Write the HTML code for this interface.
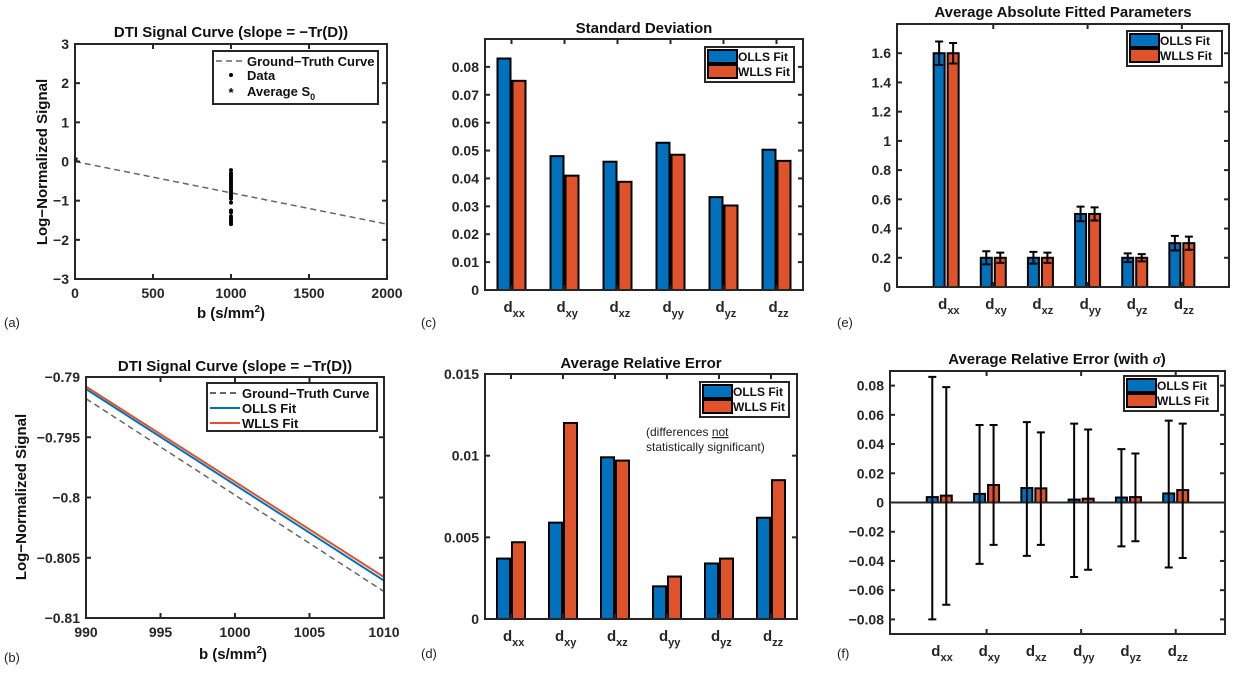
<!DOCTYPE html>
<html><head><meta charset="utf-8"><style>
html,body{margin:0;padding:0;background:#fff;}
svg{display:block;font-family:"Liberation Sans",sans-serif;}
</style></head><body>
<svg id="fig" width="1240" height="673" viewBox="0 0 1240 673" xmlns="http://www.w3.org/2000/svg"></svg>
<script>
// ---- data ----
const categories = ['xx','xy','xz','yy','yz','zz'];
const sdOlls = [0.083,0.048,0.046,0.0528,0.0333,0.0503];
const sdWlls = [0.075,0.041,0.0388,0.0485,0.0303,0.0463];
const relOlls = [0.0037,0.0059,0.0099,0.0020,0.0034,0.0062];
const relWlls = [0.0047,0.0120,0.0097,0.0026,0.0037,0.0085];
const absOlls = [1.6,0.2,0.2,0.5,0.2,0.3];
const absWlls = [1.6,0.2,0.2,0.5,0.2,0.3];
const absErrOlls = [0.08,0.045,0.04,0.05,0.03,0.05];
const absErrWlls = [0.07,0.035,0.035,0.045,0.025,0.045];
const relHiOlls = [0.086,0.053,0.055,0.054,0.0365,0.056];
const relLoOlls = [-0.080,-0.042,-0.0365,-0.051,-0.030,-0.0445];
const relHiWlls = [0.079,0.053,0.048,0.050,0.0335,0.054];
const relLoWlls = [-0.070,-0.029,-0.029,-0.046,-0.0265,-0.038];
const dataB = 1000;
const dataY = [-0.22,-0.3,-0.35,-0.4,-0.45,-0.5,-0.55,-0.6,-0.65,-0.7,-0.75,-0.8,-0.85,-0.9,-0.95,-1.05,-1.25,-1.3,-1.4,-1.45,-1.5,-1.55,-1.6];
const gtB = [0,2000];
const gtY = [0,-1.6];
const zoomB = [990,1010];
const zoomGt = [-0.7918,-0.8078];
const zoomOlls = [-0.7910,-0.8069];
const zoomWlls = [-0.7908,-0.8066];
const ticksA_x = [0,500,1000,1500,2000];
const ticksA_y = [-3,-2,-1,0,1,2,3];
const ticksB_x = [990,995,1000,1005,1010];
const ticksB_y = [-0.81,-0.805,-0.8,-0.795,-0.79];
const ticksB_yLab = ['\u22120.81','\u22120.805','\u22120.8','\u22120.795','\u22120.79'];
const ticksC_y = [0,0.01,0.02,0.03,0.04,0.05,0.06,0.07,0.08];
const ticksD_y = [0,0.005,0.01,0.015];
const ticksE_y = [0,0.2,0.4,0.6,0.8,1,1.2,1.4,1.6];
const ticksF_y = [-0.08,-0.06,-0.04,-0.02,0,0.02,0.04,0.06,0.08];

const BLUE='#0072BD', RED='#E0522A', AX='#262626';
const svg=document.getElementById('fig');
const NS='http://www.w3.org/2000/svg';
function mk(tag,attrs,parent){const e=document.createElementNS(NS,tag);for(const k in attrs)e.setAttribute(k,attrs[k]);(parent||svg).appendChild(e);return e;}
function lin(d0,d1,p0,p1){return v=>p0+(v-d0)*(p1-p0)/(d1-d0);}
function fmt(v){let s=String(+v.toFixed(4));return s.replace('-','\u2212');}

function axesBox(g,box,name){
  const r=mk('rect',{x:box.l,y:box.t,width:box.r-box.l,height:box.b-box.t,fill:'none',stroke:AX,'stroke-width':2},g);
  
  
}
function yTicks(g,box,sy,ticks,labels,name){
  ticks.forEach((v,i)=>{
    const y=sy(v);
    const t1=mk('line',{x1:box.l,x2:box.l+5,y1:y,y2:y,stroke:AX,'stroke-width':2},g);
    
    
    const t2=mk('line',{x1:box.r-5,x2:box.r,y1:y,y2:y,stroke:AX,'stroke-width':2},g);
    
    
    const tx=mk('text',{x:box.l-6,y:y+5,'text-anchor':'end','font-size':14,'font-weight':'bold',fill:AX},g);
    tx.textContent=labels?labels[i]:fmt(v);
    
    
  });
}
function xTicks(g,box,sx,ticks,name,labels){
  ticks.forEach((v,i)=>{
    const x=sx(v);
    const t1=mk('line',{x1:x,x2:x,y1:box.b,y2:box.b-5,stroke:AX,'stroke-width':2},g);
    
    
    const t2=mk('line',{x1:x,x2:x,y1:box.t,y2:box.t+5,stroke:AX,'stroke-width':2},g);
    
    
    if(labels!==false){
      const tx=mk('text',{x:x,y:box.b+19,'text-anchor':'middle','font-size':14,'font-weight':'bold',fill:AX},g);
      tx.textContent=fmt(v);
      
      
    }
  });
}
function title(g,x,y,txt,name){
  const t=mk('text',{x:x,y:y,'text-anchor':'middle','font-size':15,'font-weight':'bold',fill:'#111'},g);
  t.textContent=txt;
  
  
  return t;
}
function panelLabel(x,y,txt){
  const t=mk('text',{x:x,y:y,'font-size':13,fill:'#222'});
  t.textContent=txt;
  
  
}
function catLabels(g,box,sx,name){
  categories.forEach((c,i)=>{
    const t=mk('text',{x:sx(i+1)-8,y:box.b+22,'font-size':15,'font-weight':'bold',fill:AX},g);
    
    
    t.appendChild(document.createTextNode('d'));
    const s=mk('tspan',{dy:5,'font-size':11},t);s.textContent=c;
  });
}
function barLegend(g,x,y,w,name){
  const r=mk('rect',{x:x,y:y,width:w,height:35,fill:'#fff',stroke:AX,'stroke-width':2},g);
  
  
  [['OLLS Fit',BLUE],['WLLS Fit',RED]].forEach((e,i)=>{
    const sw=mk('rect',{x:x+3,y:y+3+i*15,width:29,height:13,fill:e[1],stroke:'#000','stroke-width':2},g);
    
    
    const t=mk('text',{x:x+33,y:y+14+i*15,'font-size':12,'font-weight':'bold',fill:'#111'},g);
    t.textContent=e[0];
    
    
  });
}
function bars(g,sx,sy,vals,off,bw,color,name){
  vals.forEach((v,i)=>{
    const x=sx(i+1)+off, y0=sy(0), y1=sy(v);
    const r=mk('rect',{x:x-bw/2,y:Math.min(y0,y1),width:bw,height:Math.abs(y0-y1),fill:color,stroke:'#000','stroke-width':2},g);
    
    
  });
}
function errs(g,sx,sy,hi,lo,off,cap,name){
  hi.forEach((h,i)=>{
    const x=sx(i+1)+off, a=sy(h), b=sy(lo[i]);
    const l=mk('path',{d:`M${x},${a}V${b}M${x-cap},${a}H${x+cap}M${x-cap},${b}H${x+cap}`,stroke:'#000','stroke-width':2,fill:'none'},g);
    
    
  });
}

// ---- Panel (a) ----
(function(){
  const g=mk('g',{});
  
  
  const box={l:75,r:387,t:44,b:279};
  const sx=lin(0,2000,box.l,box.r), sy=lin(-3,3,box.b,box.t);
  const gt=mk('line',{x1:sx(gtB[0]),y1:sy(gtY[0]),x2:sx(gtB[1]),y2:sy(gtY[1]),stroke:'#666','stroke-width':1.5,'stroke-dasharray':'6,4'},g);
  
  
  dataY.forEach(v=>{
    const c=mk('circle',{cx:sx(dataB),cy:sy(v),r:2,fill:'#000'},g);
    
    
  });
  const s0=mk('text',{x:sx(0)+1,y:sy(0)+4,'text-anchor':'middle','font-size':12,'font-weight':'bold'},g);
  s0.textContent='*';
  
  
  axesBox(g,box,'panel-a');
  yTicks(g,box,sy,ticksA_y,ticksA_y.map(fmt),'panel-a');
  xTicks(g,box,sx,ticksA_x,'panel-a');
  title(g,231,37,'DTI Signal Curve (slope = \u2212Tr(D))','panel-a');
  const xl=mk('text',{x:231,y:318,'text-anchor':'middle','font-size':15,'font-weight':'bold',fill:'#111'},g);
  
  
  xl.appendChild(document.createTextNode('b (s/mm'));
  let sp=mk('tspan',{dy:-6,'font-size':10},xl);sp.textContent='2';
  sp=mk('tspan',{dy:6},xl);sp.textContent=')';
  const yl=mk('text',{x:0,y:0,transform:'translate(47,162) rotate(-90)','text-anchor':'middle','font-size':15,'font-weight':'bold',fill:'#111'},g);
  yl.textContent='Log\u2212Normalized Signal';
  
  
  const lg=mk('rect',{x:213,y:51,width:165,height:53,fill:'#fff',stroke:AX,'stroke-width':2},g);
  
  
  const l1=mk('line',{x1:216,x2:246,y1:61,y2:61,stroke:'#666','stroke-width':1.5,'stroke-dasharray':'6,4'},g);
  
  
  const l2=mk('circle',{cx:231,cy:75,r:2,fill:'#000'},g);
  
  
  const l3=mk('text',{x:231,y:97,'text-anchor':'middle','font-size':13,'font-weight':'bold'},g);
  l3.textContent='*';
  
  
  [['Ground\u2212Truth Curve',66],['Data',80],['Average S',96]].forEach((e,i)=>{
    const t=mk('text',{x:247,y:e[1],'font-size':13,'font-weight':'bold',fill:'#111'},g);
    
    
    t.textContent=e[0];
    if(i===2){const s=mk('tspan',{dy:4,'font-size':9},t);s.textContent='0';}
  });
  panelLabel(4,327,'(a)');
})();

// ---- Panel (b) ----
(function(){
  const g=mk('g',{});
  
  
  const box={l:86,r:384,t:377,b:618};
  const sx=lin(990,1010,box.l,box.r), sy=lin(-0.81,-0.79,box.b,box.t);
  const gt=mk('line',{x1:sx(zoomB[0]),y1:sy(zoomGt[0]),x2:sx(zoomB[1]),y2:sy(zoomGt[1]),stroke:'#666','stroke-width':1.5,'stroke-dasharray':'6,4'},g);
  
  
  const w=mk('line',{x1:sx(zoomB[0]),y1:sy(zoomWlls[0]),x2:sx(zoomB[1]),y2:sy(zoomWlls[1]),stroke:RED,'stroke-width':2},g);
  
  
  const o=mk('line',{x1:sx(zoomB[0]),y1:sy(zoomOlls[0]),x2:sx(zoomB[1]),y2:sy(zoomOlls[1]),stroke:BLUE,'stroke-width':2},g);
  
  
  axesBox(g,box,'panel-b');
  yTicks(g,box,sy,ticksB_y,ticksB_yLab,'panel-b');
  xTicks(g,box,sx,ticksB_x,'panel-b');
  title(g,235,371,'DTI Signal Curve (slope = \u2212Tr(D))','panel-b');
  const xl=mk('text',{x:233,y:659,'text-anchor':'middle','font-size':15,'font-weight':'bold',fill:'#111'},g);
  
  
  xl.appendChild(document.createTextNode('b (s/mm'));
  let sp=mk('tspan',{dy:-6,'font-size':10},xl);sp.textContent='2';
  sp=mk('tspan',{dy:6},xl);sp.textContent=')';
  const yl=mk('text',{x:0,y:0,transform:'translate(26,497) rotate(-90)','text-anchor':'middle','font-size':15,'font-weight':'bold',fill:'#111'},g);
  yl.textContent='Log\u2212Normalized Signal';
  
  
  const lg=mk('rect',{x:207,y:383,width:170,height:48,fill:'#fff',stroke:AX,'stroke-width':2},g);
  
  
  [['Ground\u2212Truth Curve','#666','6,4'],['OLLS Fit',BLUE,''],['WLLS Fit',RED,'']].forEach((e,i)=>{
    const y=393+i*15;
    const l=mk('line',{x1:210,x2:240,y1:y,y2:y,stroke:e[1],'stroke-width':2,'stroke-dasharray':e[2]||'none'},g);
    
    
    const t=mk('text',{x:242,y:y+5,'font-size':13,'font-weight':'bold',fill:'#111'},g);
    t.textContent=e[0];
    
    
  });
  panelLabel(4,662,'(b)');
})();

// ---- Panel (c) ----
(function(){
  const g=mk('g',{});
  
  
  const box={l:485,r:803,t:39,b:290};
  const sx=lin(0.5,6.5,box.l,box.r), sy=lin(0,0.09,box.b,box.t);
  bars(g,sx,sy,sdOlls,-7.5,13,BLUE,'olls');
  bars(g,sx,sy,sdWlls,7.5,13,RED,'wlls');
  axesBox(g,box,'panel-c');
  yTicks(g,box,sy,ticksC_y,null,'panel-c');
  xTicks(g,box,sx,[1,2,3,4,5,6],'panel-c',false);
  catLabels(g,box,sx,'panel-c');
  title(g,644,33,'Standard Deviation','panel-c');
  barLegend(g,705,47,89,'panel-c');
  panelLabel(421,327,'(c)');
})();

// ---- Panel (d) ----
(function(){
  const g=mk('g',{});
  
  
  const box={l:485,r:797,t:374,b:619};
  const sx=lin(0.5,6.5,box.l,box.r), sy=lin(0,0.015,box.b,box.t);
  bars(g,sx,sy,relOlls,-7.5,13,BLUE,'olls');
  bars(g,sx,sy,relWlls,7.5,13,RED,'wlls');
  axesBox(g,box,'panel-d');
  yTicks(g,box,sy,ticksD_y,null,'panel-d');
  xTicks(g,box,sx,[1,2,3,4,5,6],'panel-d',false);
  catLabels(g,box,sx,'panel-d');
  title(g,641,368,'Average Relative Error','panel-d');
  barLegend(g,700,382,89,'panel-d');
  const a1=mk('text',{x:646,y:436,'font-size':12,fill:'#222'},g);
  a1.appendChild(document.createTextNode('(differences '));
  const u=mk('tspan',{'text-decoration':'underline'},a1);u.textContent='not';
  
  
  const a2=mk('text',{x:646,y:451,'font-size':12,fill:'#222'},g);
  a2.textContent='statistically significant)';
  
  
  panelLabel(421,658,'(d)');
})();

// ---- Panel (e) ----
(function(){
  const g=mk('g',{});
  
  
  const box={l:897,r:1229,t:24,b:287};
  const sx=lin(0,7,box.l+2,box.r), sy=lin(0,1.8,box.b,box.t);
  bars(g,sx,sy,absOlls,-7,11,BLUE,'olls');
  bars(g,sx,sy,absWlls,7,11,RED,'wlls');
  errs(g,sx,sy,absOlls.map((v,i)=>v+absErrOlls[i]),absOlls.map((v,i)=>v-absErrOlls[i]),-7,4,'olls');
  errs(g,sx,sy,absWlls.map((v,i)=>v+absErrWlls[i]),absWlls.map((v,i)=>v-absErrWlls[i]),7,4,'wlls');
  axesBox(g,box,'panel-e');
  yTicks(g,box,sy,ticksE_y,null,'panel-e');
  xTicks(g,box,sx,[2,4,6],'panel-e',false);
  catLabels(g,box,sx,'panel-e');
  title(g,1063,17,'Average Absolute Fitted Parameters','panel-e');
  barLegend(g,1127,31,95,'panel-e');
  panelLabel(837,327,'(e)');
})();

// ---- Panel (f) ----
(function(){
  const g=mk('g',{});
  
  
  const box={l:890,r:1225,t:371,b:634};
  const sx=lin(0,7,box.l+2,box.r-2), sy=lin(-0.09,0.09,box.b,box.t);
  bars(g,sx,sy,relOlls,-7,11,BLUE,'olls');
  bars(g,sx,sy,relWlls,7,11,RED,'wlls');
  const z=mk('line',{x1:box.l,x2:box.r,y1:sy(0),y2:sy(0),stroke:AX,'stroke-width':2},g);
  
  
  errs(g,sx,sy,relHiOlls,relLoOlls,-7,4,'olls');
  errs(g,sx,sy,relHiWlls,relLoWlls,7,4,'wlls');
  axesBox(g,box,'panel-f');
  yTicks(g,box,sy,ticksF_y,null,'panel-f');
  xTicks(g,box,sx,[2,4,6],'panel-f',false);
  catLabels(g,box,sx,'panel-f');
  const t=title(g,1057,364,'Average Relative Error (with ','panel-f');
  const s=mk('tspan',{'font-style':'italic','font-family':'Liberation Serif, serif'},t);s.textContent='\u03C3';
  const s2=mk('tspan',{},t);s2.textContent=')';
  barLegend(g,1124,376,94,'panel-f');
  panelLabel(837,658,'(f)');
})();
</script>
</body></html>
